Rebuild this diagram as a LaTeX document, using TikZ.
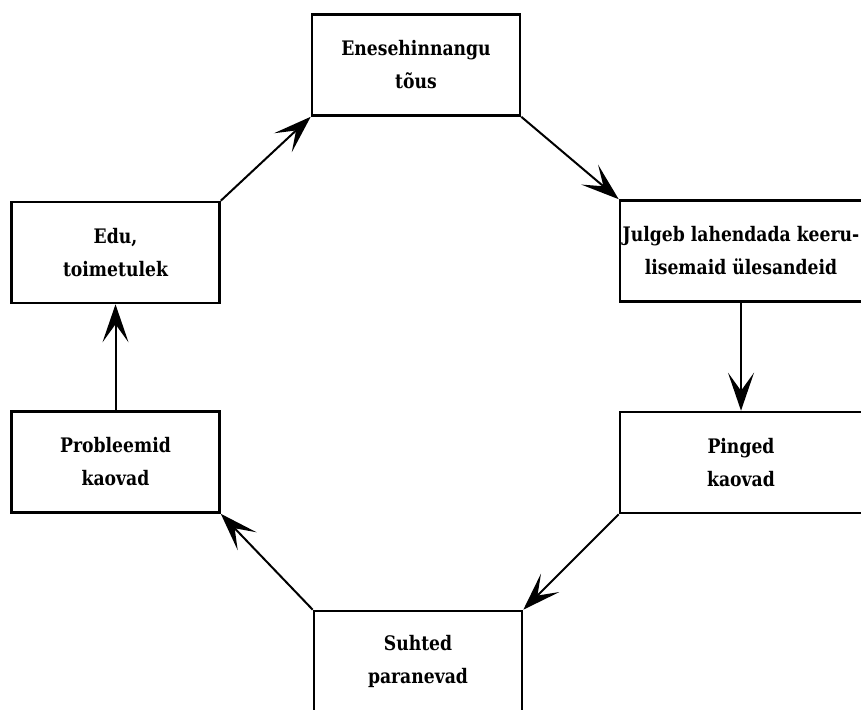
\documentclass[tikz,border=0pt]{standalone}
\usepackage{fontspec}
\setmainfont{DejaVu Serif}[FakeStretch=0.86]
\usepackage{tikz}
\usetikzlibrary{arrows.meta}
\tikzset{
  font={\fontsize{20pt}{33pt}\selectfont\bfseries},
  stage/.style={draw, line width=2.6pt, minimum width=208pt, minimum height=101pt,
    align=center, inner sep=0pt},
  flow/.style={line width=2pt, -{Stealth[length=38pt,width=26pt,inset=18pt]}}}

\begin{document}
\begin{tikzpicture}[x=1pt,y=-1pt]
\useasboundingbox (0,0) rectangle (861,709);
\clip (0,0) rectangle (861,709);
\node [stage] (enese) at (416,65) {Enesehinnangu\\tõus};
\node [stage] (edu) at (115.5,252.5) {Edu,\\toimetulek};
\node [stage] (probl) at (115.5,462) {Probleemid\\kaovad};
\node [stage, minimum width=242pt] (julgeb) at (741,251) {Julgeb lahendada keeru-\\lisemaid ülesandeid};
\node [stage, minimum width=242pt] (pinged) at (741,462.5) {Pinged\\kaovad};
\node [stage] (suhted) at (418,661.5) {Suhted\\paranevad};
\draw [flow] (edu.north east) -- (enese.south west);
\draw [flow] (enese.south east) -- (julgeb.north west);
\draw [flow] (julgeb.south) -- (pinged.north);
\draw [flow] (pinged.south west) -- (suhted.north east);
\draw [flow] (suhted.north west) -- (probl.south east);
\draw [flow] (probl.north) -- (edu.south);
\end{tikzpicture}
\end{document}
